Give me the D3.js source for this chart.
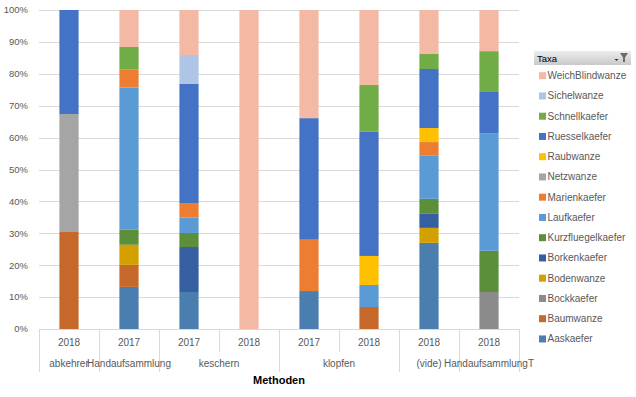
<!DOCTYPE html>
<html>
<head>
<meta charset="utf-8">
<script src="https://cdn.jsdelivr.net/npm/d3@7"></script>
<style>
  body { margin: 0; background: #fff; }
  text { font-family: "Liberation Sans", Arial, sans-serif; }
</style>
</head>
<body>
<script>
// categories (group + year), one bar each
const groups = ['abkehrer', 'Handaufsammlung', 'keschern', 'keschern', 'klopfen', 'klopfen', '(vide)', 'HandaufsammlungT'];
const years = ['2018', '2017', '2017', '2018', '2017', '2018', '2018', '2018'];

// series, stacked bottom to top
const taxa = ['Aaskaefer', 'Baumwanze', 'Bockkaefer', 'Bodenwanze', 'Borkenkaefer', 'Kurzfluegelkaefer',
  'Laufkaefer', 'Marienkaefer', 'Netzwanze', 'Raubwanze', 'Ruesselkaefer', 'Schnellkaefer', 'Sichelwanze', 'WeichBlindwanze'];

// percent per bar
const aaskaefer = [0, 13.2, 11.6, 0, 11.9, 0, 27.0, 0];
const baumwanze = [30.4, 6.9, 0, 0, 0, 6.9, 0, 0];
const bockkaefer = [0, 0, 0, 0, 0, 0, 0, 11.6];
const bodenwanze = [0, 6.3, 0, 0, 0, 0, 4.7, 0];
const borkenkaefer = [0, 0, 14.1, 0, 0, 0, 4.4, 0];
const kurzfluegelkaefer = [0, 4.7, 4.4, 0, 0, 0, 4.7, 12.9];
const laufkaefer = [0, 44.6, 4.8, 0, 0, 6.9, 13.5, 36.9];
const marienkaefer = [0, 5.6, 4.6, 0, 16.1, 0, 4.3, 0];
const netzwanze = [37.0, 0, 0, 0, 0, 0, 0, 0];
const raubwanze = [0, 0, 0, 0, 0, 9.1, 4.4, 0];
const ruesselkaefer = [32.6, 0, 37.3, 0, 38.1, 38.9, 18.5, 12.9];
const schnellkaefer = [0, 7.1, 0, 0, 0, 14.7, 4.7, 12.8];
const sichelwanze = [0, 0, 9.1, 0, 0, 0, 0, 0];
const weichBlindwanze = [0, 11.6, 14.1, 100, 33.9, 23.5, 13.8, 12.9];

const seriesValues = [aaskaefer, baumwanze, bockkaefer, bodenwanze, borkenkaefer, kurzfluegelkaefer,
  laufkaefer, marienkaefer, netzwanze, raubwanze, ruesselkaefer, schnellkaefer, sichelwanze, weichBlindwanze];

const yTicks = [0, 10, 20, 30, 40, 50, 60, 70, 80, 90, 100];

const colors = ['#4a7eaf', '#c5682a', '#8b8b8b', '#d4a000', '#365fa2', '#5b8f3a',
  '#5b9bd5', '#ed7d31', '#a5a5a5', '#ffc000', '#4472c4', '#70ad47', '#aec5e5', '#f4b9a4'];

const width = 636, height = 397;
const plot = { left: 39, right: 519, top: 10, bottom: 329 };

const svg = d3.select('body').append('svg')
  .attr('width', width)
  .attr('height', height);

// table for the stack
const rows = groups.map((g, i) => {
  const r = { idx: i };
  taxa.forEach((t, j) => { r[t] = seriesValues[j][i]; });
  return r;
});
const stacked = d3.stack().keys(taxa)(rows);

const x = d3.scaleBand().domain(d3.range(groups.length)).range([plot.left, plot.right]);
const y = d3.scaleLinear().domain([0, 100]).range([plot.bottom, plot.top]);
const color = d3.scaleOrdinal().domain(taxa).range(colors);
const barW = x.bandwidth() * 0.32;

// gridlines
svg.append('g')
  .selectAll('line')
  .data(yTicks)
  .join('line')
  .attr('x1', plot.left)
  .attr('x2', plot.right)
  .attr('y1', d => Math.round(y(d)) + 0.5)
  .attr('y2', d => Math.round(y(d)) + 0.5)
  .attr('stroke', '#d9d9d9');

// y labels
svg.append('g')
  .selectAll('text')
  .data(yTicks)
  .join('text')
  .attr('x', 28)
  .attr('y', d => y(d) + 3.3)
  .attr('text-anchor', 'end')
  .style('font-size', '9.5px')
  .style('fill', '#595959')
  .text(d => d + '%');

// bars
svg.append('g')
  .selectAll('g')
  .data(stacked)
  .join('g')
  .attr('fill', d => color(d.key))
  .selectAll('rect')
  .data(d => d)
  .join('rect')
  .attr('x', d => x(d.data.idx) + (x.bandwidth() - barW) / 2)
  .attr('y', d => y(d[1]))
  .attr('width', barW)
  .attr('height', d => y(d[0]) - y(d[1]));

// category axis, two levels
const axis = svg.append('g').attr('stroke', '#d9d9d9');
axis.append('line')
  .attr('x1', plot.left).attr('x2', plot.right)
  .attr('y1', plot.bottom + 0.5).attr('y2', plot.bottom + 0.5);

const seps = d3.range(groups.length + 1);
axis.selectAll('line.sep')
  .data(seps)
  .join('line')
  .attr('class', 'sep')
  .attr('x1', i => Math.round(i < groups.length ? x(i) : plot.right) + 0.5)
  .attr('x2', i => Math.round(i < groups.length ? x(i) : plot.right) + 0.5)
  .attr('y1', plot.bottom)
  .attr('y2', i => (i > 0 && i < groups.length && groups[i] === groups[i - 1]) ? 352 : 372);

svg.append('g')
  .selectAll('text')
  .data(years)
  .join('text')
  .attr('x', (d, i) => x(i) + x.bandwidth() / 2)
  .attr('y', 346)
  .attr('text-anchor', 'middle')
  .style('font-size', '10px')
  .style('fill', '#595959')
  .text(d => d);

// group labels centered on their bars
const groupSpans = [];
groups.forEach((g, i) => {
  const last = groupSpans[groupSpans.length - 1];
  if (last && last.name === g) last.end = i;
  else groupSpans.push({ name: g, start: i, end: i });
});
svg.append('g')
  .selectAll('text')
  .data(groupSpans)
  .join('text')
  .attr('x', d => (x(d.start) + x(d.end) + x.bandwidth()) / 2)
  .attr('y', 367)
  .attr('text-anchor', 'middle')
  .style('font-size', '10px')
  .style('fill', '#595959')
  .text(d => d.name);

svg.append('text')
  .attr('x', (plot.left + plot.right) / 2)
  .attr('y', 384)
  .attr('text-anchor', 'middle')
  .style('font-size', '11px')
  .style('font-weight', 'bold')
  .style('fill', '#000')
  .text('Methoden');

// legend header
const defs = svg.append('defs');
const grad = defs.append('linearGradient').attr('id', 'hdr').attr('x1', 0).attr('x2', 0).attr('y1', 0).attr('y2', 1);
grad.append('stop').attr('offset', '0%').attr('stop-color', '#ececec');
grad.append('stop').attr('offset', '100%').attr('stop-color', '#c9c9c9');

svg.append('rect')
  .attr('x', 534).attr('y', 51)
  .attr('width', 97).attr('height', 14)
  .attr('fill', 'url(#hdr)');
svg.append('text')
  .attr('x', 537).attr('y', 61.5)
  .style('font-size', '9.5px')
  .style('fill', '#000')
  .text('Taxa');
// filter button
svg.append('path')
  .attr('d', 'M620,53 L628,53 L625,57.5 L625,62 L623,62 L623,57.5 Z')
  .attr('fill', '#6b6b6b');
svg.append('path')
  .attr('d', 'M614.5,59 L618.5,59 L616.5,61 Z')
  .attr('fill', '#333');

// legend items, top = last series
const legendTaxa = taxa.slice().reverse();
const legend = svg.append('g')
  .selectAll('g')
  .data(legendTaxa)
  .join('g')
  .attr('transform', (d, i) => `translate(539,${75.7 + i * 20.25})`);
legend.append('rect')
  .attr('x', 0).attr('y', -3.5)
  .attr('width', 7).attr('height', 7)
  .attr('fill', d => color(d));
legend.append('text')
  .attr('x', 8.5).attr('y', 3.5)
  .style('font-size', '10px')
  .style('fill', '#595959')
  .text(d => d);
</script>
</body>
</html>
